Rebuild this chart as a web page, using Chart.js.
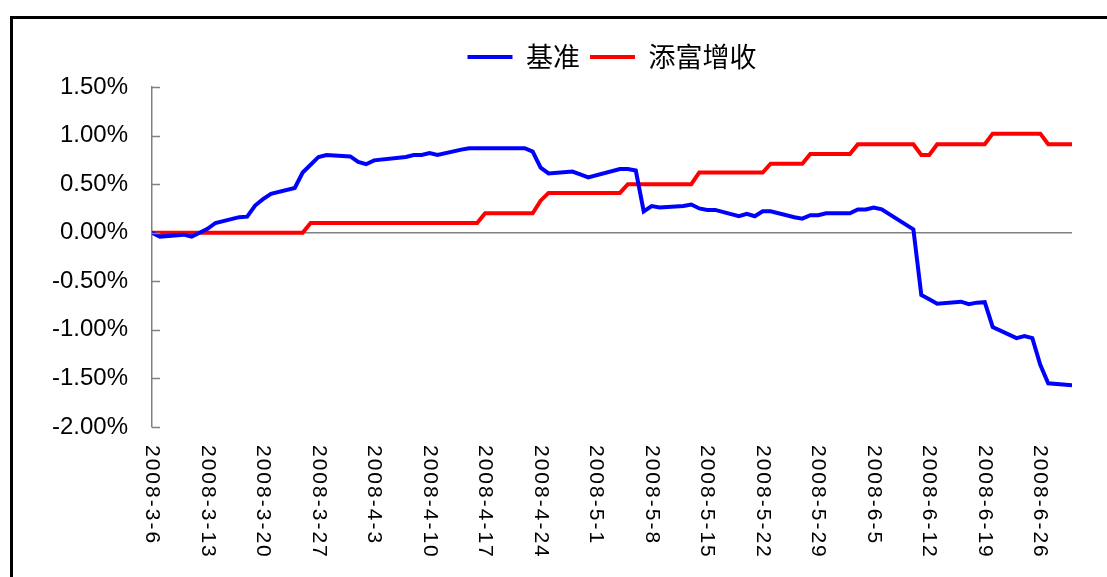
<!DOCTYPE html>
<html>
<head>
<meta charset="utf-8">
<script src="https://cdn.jsdelivr.net/npm/chart.js@4.4.1/dist/chart.umd.min.js"></script>
<style>
  body { margin: 0; background: #fff; }
  #wrap { position: relative; width: 1107px; height: 577px; overflow: hidden; }
  #frame { position: absolute; left: 10px; top: 16px; width: 1200px; height: 700px;
           border-left: 3px solid #000; border-top: 3px solid #000; }
  #chart { position: absolute; left: 0; top: 0; }
</style>
</head>
<body>
<div id="wrap">
  <div id="frame"></div>
  <canvas id="chart" width="1107" height="577"></canvas>
</div>
<script>
// trading days
const dates = [
  '2008-3-6', '2008-3-7', '2008-3-10', '2008-3-11', '2008-3-12', '2008-3-13', '2008-3-14',
  '2008-3-17', '2008-3-18', '2008-3-19', '2008-3-20', '2008-3-21',
  '2008-3-24', '2008-3-25', '2008-3-26', '2008-3-27', '2008-3-28',
  '2008-3-31', '2008-4-1', '2008-4-2', '2008-4-3',
  '2008-4-7', '2008-4-8', '2008-4-9', '2008-4-10', '2008-4-11',
  '2008-4-14', '2008-4-15', '2008-4-16', '2008-4-17', '2008-4-18',
  '2008-4-21', '2008-4-22', '2008-4-23', '2008-4-24', '2008-4-25',
  '2008-4-28', '2008-4-29', '2008-4-30',
  '2008-5-4', '2008-5-5', '2008-5-6', '2008-5-7', '2008-5-8', '2008-5-9',
  '2008-5-12', '2008-5-13', '2008-5-14', '2008-5-15', '2008-5-16',
  '2008-5-19', '2008-5-20', '2008-5-21', '2008-5-22', '2008-5-23',
  '2008-5-26', '2008-5-27', '2008-5-28', '2008-5-29', '2008-5-30',
  '2008-6-2', '2008-6-3', '2008-6-4', '2008-6-5', '2008-6-6',
  '2008-6-10', '2008-6-11', '2008-6-12', '2008-6-13',
  '2008-6-16', '2008-6-17', '2008-6-18', '2008-6-19', '2008-6-20',
  '2008-6-23', '2008-6-24', '2008-6-25', '2008-6-26', '2008-6-27',
  '2008-6-30'
];

// 基准 (%)
const benchmark = [
  0, -0.04, -0.02, -0.04, 0.00, 0.04, 0.10,
  0.16, 0.165, 0.28, 0.345, 0.40,
  0.46, 0.62, 0.70, 0.78, 0.80,
  0.785, 0.73, 0.705, 0.745,
  0.78, 0.80, 0.80, 0.82, 0.80,
  0.855, 0.87, 0.87, 0.87, 0.87,
  0.87, 0.87, 0.835, 0.67, 0.61,
  0.63, 0.60, 0.57,
  0.655, 0.655, 0.64, 0.22, 0.275, 0.26,
  0.275, 0.29, 0.25, 0.235, 0.235,
  0.17, 0.195, 0.17, 0.22, 0.22,
  0.16, 0.145, 0.18, 0.18, 0.20,
  0.20, 0.24, 0.24, 0.26, 0.24,
  0.035, -0.64, -0.685, -0.73,
  -0.71, -0.735, -0.72, -0.715, -0.97,
  -1.085, -1.065, -1.085, -1.36, -1.55,
  -1.57
];

// 添富增收 (%)
const fund = [
  0, 0, 0, 0, 0, 0, 0,
  0, 0, 0, 0, 0,
  0, 0, 0.10, 0.10, 0.10,
  0.10, 0.10, 0.10, 0.10,
  0.10, 0.10, 0.10, 0.10, 0.10,
  0.10, 0.10, 0.10, 0.20, 0.20,
  0.20, 0.20, 0.20, 0.33, 0.41,
  0.41, 0.41, 0.41,
  0.41, 0.50, 0.50, 0.50, 0.50, 0.50,
  0.50, 0.50, 0.62, 0.62, 0.62,
  0.62, 0.62, 0.62, 0.62, 0.71,
  0.71, 0.71, 0.81, 0.81, 0.81,
  0.81, 0.91, 0.91, 0.91, 0.91,
  0.91, 0.80, 0.80, 0.91,
  0.91, 0.91, 0.91, 0.91, 1.02,
  1.02, 1.02, 1.02, 1.02, 0.91,
  0.91
];

const tickLabels = [
  '2008-3-6', '2008-3-13', '2008-3-20', '2008-3-27', '2008-4-3', '2008-4-10',
  '2008-4-17', '2008-4-24', '2008-5-1', '2008-5-8', '2008-5-15', '2008-5-22',
  '2008-5-29', '2008-6-5', '2008-6-12', '2008-6-19', '2008-6-26'
];
const lastDate = '2008-6-30';

// days since the first date
function dayIndex(s) {
  var p = s.split('-');
  return (Date.UTC(+p[0], +p[1] - 1, +p[2]) - Date.UTC(2008, 2, 6)) / 86400000;
}

function points(vals) {
  return dates.map(function (d, i) { return { x: dayIndex(d), y: vals[i] }; });
}

// vertical date labels (text reads downward) and short inside ticks on the y axis
const extras = {
  id: 'extras',
  afterDraw(chart) {
    var c = chart.ctx, xs = chart.scales.x, ys = chart.scales.y;
    c.save();
    c.font = '21px "Liberation Sans", Arial, sans-serif';
    c.fillStyle = '#000';
    c.letterSpacing = '2px';
    c.textAlign = 'left';
    c.textBaseline = 'middle';
    tickLabels.forEach(function (t) {
      c.save();
      c.translate(xs.getPixelForValue(dayIndex(t)), 445);
      c.rotate(Math.PI / 2);
      c.fillText(t, 0, 0);
      c.restore();
    });
    c.letterSpacing = '0px';
    c.strokeStyle = '#808080';
    c.lineWidth = 1.5;
    ys.ticks.forEach(function (tk) {
      var y = Math.round(ys.getPixelForValue(tk.value)) + 0.5;
      c.beginPath();
      c.moveTo(ys.right, y);
      c.lineTo(ys.right + 8, y);
      c.stroke();
    });
    c.restore();
  }
};

const data = {
  datasets: [{
    label: '基准',
    data: points(benchmark),
    borderColor: '#0000FF',
    backgroundColor: '#0000FF',
    borderWidth: 4,
    pointRadius: 0,
    tension: 0
  }, {
    label: '添富增收',
    data: points(fund),
    borderColor: '#FF0000',
    backgroundColor: '#FF0000',
    borderWidth: 4,
    pointRadius: 0,
    tension: 0
  }]
};

const config = {
  type: 'line',
  data: data,
  options: {
    responsive: false,
    animation: false,
    layout: { padding: { top: 33.5, right: 35, left: 0, bottom: 0 } },
    plugins: {
      tooltip: { enabled: false },
      legend: {
        position: 'top',
        fullSize: false,
        labels: {
          boxWidth: 45,
          boxHeight: 4,
          padding: 10,
          color: '#000',
          font: { family: '"Noto Sans CJK SC", sans-serif', size: 27 },
          generateLabels(chart) {
            return Chart.defaults.plugins.legend.labels.generateLabels(chart).map(function (l) {
              l.lineWidth = 0;
              l.fillStyle = l.strokeStyle;
              return l;
            });
          }
        }
      }
    },
    scales: {
      x: {
        type: 'linear',
        min: 0,
        max: dayIndex(lastDate),
        grid: { display: false },
        border: { display: false },
        ticks: { display: false },
        afterFit(s) { s.height = 150; }
      },
      xTop: {
        type: 'linear',
        position: 'top',
        grid: { display: false },
        border: { display: false },
        ticks: { display: false },
        afterFit(s) { s.height = 6.5; }
      },
      y: {
        min: -2,
        max: 1.5,
        ticks: {
          stepSize: 0.5,
          padding: 24,
          color: '#000',
          font: { family: '"Liberation Sans", Arial, sans-serif', size: 24 },
          callback: function (v) { return v.toFixed(2) + '%'; }
        },
        grid: {
          drawTicks: false,
          lineWidth: 1.5,
          color: function (ctx) { return ctx.tick && ctx.tick.value === 0 ? '#808080' : 'rgba(0,0,0,0)'; }
        },
        border: { display: true, color: '#808080', width: 1.5 },
        afterFit(s) { s.width = 152; }
      }
    }
  },
  plugins: [extras]
};

var ctx = document.getElementById('chart').getContext('2d');
const myChart = new Chart(ctx, config);
</script>
</body>
</html>
